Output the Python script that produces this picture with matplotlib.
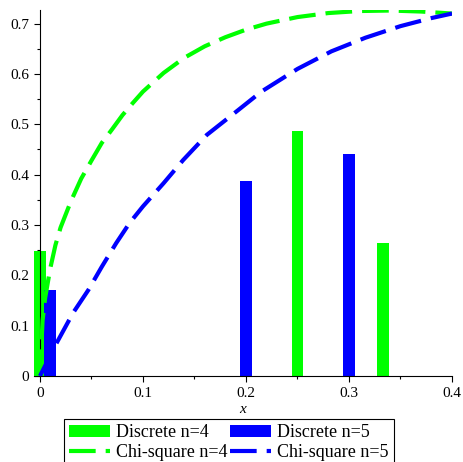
import matplotlib
matplotlib.use('Agg')
import matplotlib.pyplot as plt
from matplotlib.ticker import MultipleLocator

plt.rcParams['font.family'] = ['Liberation Serif', 'DejaVu Serif']

# discrete distributions (bar positions and heights)
disc4_x = [0.0, 0.25, 0.3333]
disc4_y = [0.248, 0.487, 0.264]
disc5_x = [0.0095, 0.2, 0.3]
disc5_y = [0.170, 0.388, 0.441]

# chi-square curves
chi4_x = [0, 0.0025, 0.005, 0.01, 0.015, 0.02, 0.03, 0.04, 0.05, 0.06, 0.07, 0.08,
          0.09, 0.10, 0.12, 0.14, 0.16, 0.18, 0.20, 0.22, 0.25, 0.28, 0.31, 0.34,
          0.37, 0.40]
chi4_y = [0, 0.11, 0.155, 0.214, 0.260, 0.295, 0.347, 0.392, 0.428, 0.463, 0.490,
          0.518, 0.542, 0.565, 0.602, 0.632, 0.655, 0.673, 0.688, 0.700, 0.713,
          0.721, 0.725, 0.726, 0.724, 0.720]
chi5_x = [0, 0.016, 0.032, 0.047, 0.06, 0.074, 0.087, 0.10, 0.12, 0.139, 0.162,
          0.188, 0.215, 0.25, 0.283, 0.316, 0.35, 0.38, 0.40]
chi5_y = [0, 0.065, 0.125, 0.171, 0.217, 0.264, 0.304, 0.337, 0.383, 0.429, 0.479,
          0.521, 0.565, 0.610, 0.645, 0.672, 0.695, 0.711, 0.720]

green = '#00ff00'
blue = '#0000ff'

fig = plt.figure(figsize=(4.63, 4.62), dpi=100)
ax = fig.add_axes([0.073, 0.1861, 0.9032, 0.7922])

b4 = ax.bar(disc4_x, disc4_y, width=0.0115, color=green, zorder=2)
b5 = ax.bar(disc5_x, disc5_y, width=0.0115, color=blue, zorder=2)
l4, = ax.plot(chi4_x, chi4_y, color=green, lw=3, dashes=(6.4, 2.4), zorder=3)
l5, = ax.plot(chi5_x, chi5_y, color=blue, lw=3, dashes=(6.4, 2.4), zorder=3)

ax.set_xlim(-0.006, 0.4)
ax.set_ylim(0, 0.727)
ax.spines['left'].set_position(('data', 0))
ax.spines['top'].set_visible(False)
ax.spines['right'].set_visible(False)
ax.xaxis.set_minor_locator(MultipleLocator(0.05))
ax.yaxis.set_minor_locator(MultipleLocator(0.05))
ax.set_xticks([0, 0.1, 0.2, 0.3, 0.4])
ax.set_xticklabels(['0', '0.1', '0.2', '0.3', '0.4'])
ax.set_yticks([0, 0.1, 0.2, 0.3, 0.4, 0.5, 0.6, 0.7])
ax.set_yticklabels(['0', '0.1', '0.2', '0.3', '0.4', '0.5', '0.6', '0.7'])
ax.tick_params(which='major', length=4.3, width=0.8, labelsize=11, direction='out')
ax.tick_params(which='minor', length=2.2, width=0.8, direction='out')
ax.set_xlabel('x', fontstyle='italic', fontsize=11, labelpad=2)

# column-wise: n=4 entries first, then n=5
leg = fig.legend([b4, l4, b5, l5],
                 ['Discrete n=4', 'Chi-square n=4', 'Discrete n=5', 'Chi-square n=5'],
                 ncol=2, loc='upper left', bbox_to_anchor=(64 / 463, 1 - 419 / 462),
                 borderaxespad=0, fontsize=13, handlelength=2.27, handletextpad=0.33,
                 columnspacing=0.1, labelspacing=0.15, borderpad=0.3,
                 fancybox=False, framealpha=1, edgecolor='black')
leg.get_frame().set_linewidth(0.8)

plt.savefig('out.png', dpi=100)
